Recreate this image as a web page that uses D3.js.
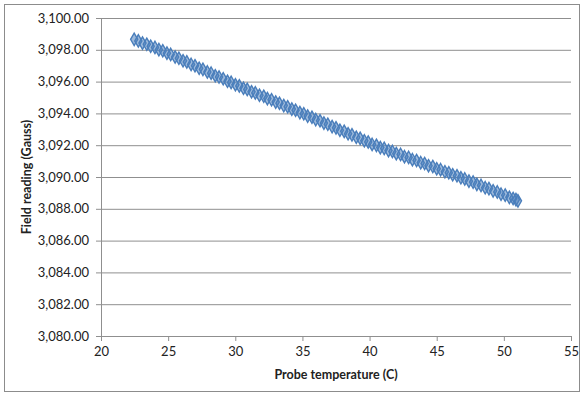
<!DOCTYPE html>
<html>
<head>
<meta charset="utf-8">
<script src="https://cdn.jsdelivr.net/npm/d3@7"></script>
<style>
  body { margin: 0; background: #fff; }
  text { font-family: Lato, "Open Sans", sans-serif; fill: #222; }
</style>
</head>
<body>
<div id="container"></div>
<script>
const WIDTH = 584;
const HEIGHT = 395;
const MARGIN = { top: 18, right: 13, bottom: 59, left: 101 };
const INNER_WIDTH = WIDTH - MARGIN.left - MARGIN.right;
const INNER_HEIGHT = HEIGHT - MARGIN.top - MARGIN.bottom;

// Probe temperature (C)
const temperature = [
  22.47, 22.78, 23.09, 23.41, 23.70, 24.02, 24.31, 24.60, 24.91, 25.19,
  25.52, 25.80, 26.11, 26.39, 26.71, 27.00, 27.31, 27.59, 27.92, 28.20,
  28.51, 28.79, 29.10, 29.42, 29.69, 30.01, 30.30, 30.61, 30.89, 31.21,
  31.49, 31.80, 32.12, 32.39, 32.70, 33.01, 33.29, 33.61, 33.90, 34.21,
  34.49, 34.81, 35.10, 35.39, 35.71, 35.99, 36.31, 36.60, 36.89, 37.21,
  37.50, 37.79, 38.11, 38.40, 38.69, 39.01, 39.30, 39.61, 39.90, 40.19,
  40.51, 40.80, 41.09, 41.41, 41.70, 41.99, 42.31, 42.60, 42.91, 43.19,
  43.50, 43.81, 44.10, 44.39, 44.71, 45.00, 45.29, 45.61, 45.90, 46.19,
  46.51, 46.80, 47.09, 47.40, 47.71, 47.99, 48.30, 48.61, 48.89, 49.20,
  49.51, 49.79, 50.10, 50.41, 50.69, 50.90, 51.05
];
// Field reading (Gauss)
const reading = [
  3098.66, 3098.56, 3098.42, 3098.35, 3098.22, 3098.15, 3098.01, 3097.94, 3097.79, 3097.71,
  3097.55, 3097.47, 3097.31, 3097.24, 3097.08, 3097.00, 3096.84, 3096.77, 3096.61, 3096.53,
  3096.37, 3096.29, 3096.18, 3096.02, 3095.95, 3095.80, 3095.73, 3095.58, 3095.51, 3095.36,
  3095.29, 3095.14, 3095.08, 3094.93, 3094.86, 3094.71, 3094.64, 3094.49, 3094.42, 3094.27,
  3094.20, 3094.05, 3093.98, 3093.83, 3093.76, 3093.61, 3093.54, 3093.39, 3093.32, 3093.17,
  3093.09, 3092.94, 3092.87, 3092.72, 3092.65, 3092.50, 3092.43, 3092.28, 3092.20, 3092.05,
  3091.99, 3091.85, 3091.80, 3091.66, 3091.61, 3091.47, 3091.42, 3091.28, 3091.23, 3091.09,
  3091.04, 3090.90, 3090.85, 3090.71, 3090.66, 3090.52, 3090.46, 3090.33, 3090.27, 3090.14,
  3090.08, 3089.95, 3089.88, 3089.74, 3089.68, 3089.54, 3089.47, 3089.33, 3089.27, 3089.13,
  3089.06, 3088.92, 3088.86, 3088.72, 3088.65, 3088.58, 3088.50
];
const xTicks = [20, 25, 30, 35, 40, 45, 50, 55];
const yTicks = [3080, 3082, 3084, 3086, 3088, 3090, 3092, 3094, 3096, 3098, 3100];

const points = temperature.map((t, i) => ({ t: t, g: reading[i] }));

const root = d3.select('#container').append('svg')
    .attr('width', WIDTH)
    .attr('height', HEIGHT);

// Chart area border
root.append('rect')
    .attr('x', 4.5).attr('y', 4.5)
    .attr('width', WIDTH - 9).attr('height', HEIGHT - 8)
    .attr('fill', '#fff')
    .attr('stroke', '#8c8c8c');

const svg = root.append('g')
    .attr('transform', 'translate(' + MARGIN.left + ',' + MARGIN.top + ')');

const x = d3.scaleLinear().domain([20, 55]).range([0, INNER_WIDTH]);
const y = d3.scaleLinear().domain([3080, 3100]).range([INNER_HEIGHT, 0]);

const fmt = d3.format(',.2f');
const xAxis = d3.axisBottom(x).tickValues(xTicks).tickSize(5).tickPadding(6);
const yAxis = d3.axisLeft(y).tickValues(yTicks).tickSize(5).tickPadding(7).tickFormat(fmt);
const yAxisGrid = d3.axisLeft(y).tickValues(yTicks).tickSize(-INNER_WIDTH).tickFormat('');

// Grid
svg.append('g')
    .attr('class', 'y axis-grid')
    .call(yAxisGrid)
    .call(g => g.select('.domain').remove())
    .call(g => g.selectAll('line').attr('stroke', '#8f8f8f'));

// Axes
svg.append('g')
    .attr('class', 'x axis')
    .attr('transform', 'translate(0,' + INNER_HEIGHT + ')')
    .call(xAxis)
    .call(g => g.select('.domain').attr('stroke', '#8f8f8f'))
    .call(g => g.selectAll('line').attr('stroke', '#8f8f8f'))
    .call(g => g.selectAll('text').attr('font-size', 13).attr('font-family', 'Lato'));
svg.append('g')
    .attr('class', 'y axis')
    .call(yAxis)
    .call(g => g.select('.domain').attr('stroke', '#8f8f8f'))
    .call(g => g.selectAll('line').attr('stroke', '#8f8f8f'))
    .call(g => g.selectAll('text').attr('font-size', 13).attr('font-family', 'Lato'));

// Axis titles
svg.append('text')
    .attr('x', INNER_WIDTH / 2)
    .attr('y', INNER_HEIGHT + 43)
    .attr('text-anchor', 'middle')
    .attr('font-size', 12.5)
    .attr('font-weight', 'bold')
    .text('Probe temperature (C)');
svg.append('text')
    .attr('transform', 'translate(' + (-70) + ',' + (INNER_HEIGHT / 2) + ') rotate(-90)')
    .attr('text-anchor', 'middle')
    .attr('font-size', 12.5)
    .attr('font-weight', 'bold')
    .text('Field reading (Gauss)');

// Points
const diamond = d3.symbol().type(d3.symbolDiamond).size(44);
svg.append('g')
    .selectAll('path')
    .data(points)
    .join('path')
    .attr('transform', d => 'translate(' + x(d.t) + ',' + y(d.g) + ')')
    .attr('d', diamond)
    .attr('fill', '#4f81bd')
    .attr('fill-opacity', 0.55)
    .attr('stroke', '#4a7ebb')
    .attr('stroke-width', 1.4);
</script>
</body>
</html>
